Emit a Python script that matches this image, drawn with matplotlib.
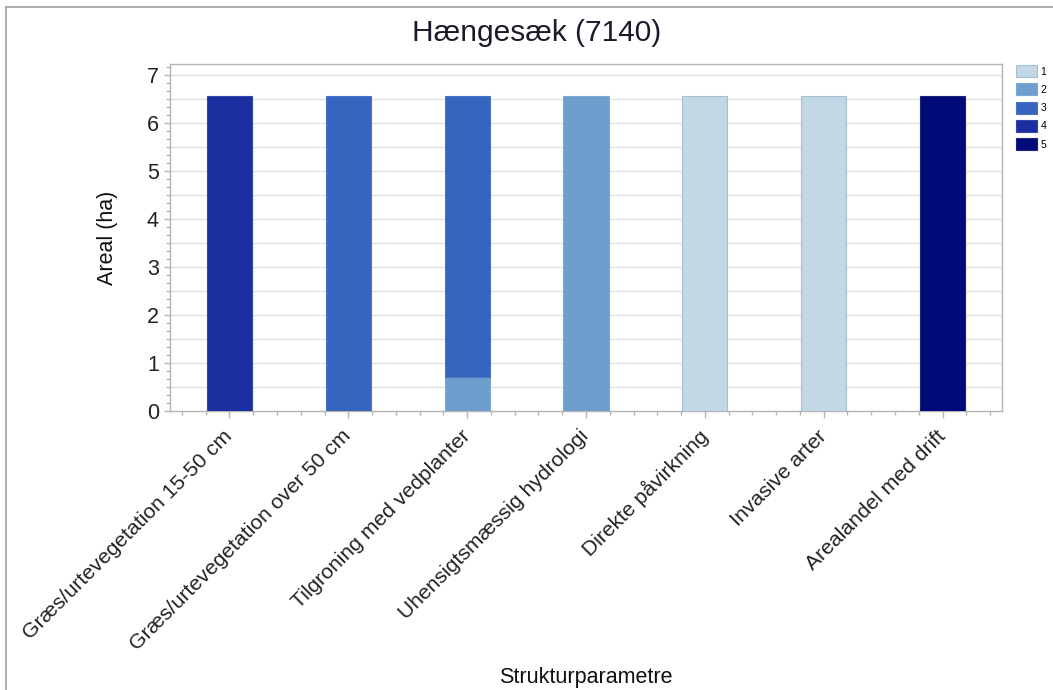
import matplotlib
matplotlib.use("Agg")
import matplotlib.pyplot as plt
from matplotlib.ticker import MultipleLocator
from matplotlib.lines import Line2D
import numpy as np

plt.rcParams['font.family'] = ['Liberation Sans', 'DejaVu Sans']

title = "Hængesæk (7140)"
categories = [
    "Græs/urtevegetation 15-50 cm",
    "Græs/urtevegetation over 50 cm",
    "Tilgroning med vedplanter",
    "Uhensigtsmæssig hydrologi",
    "Direkte påvirkning",
    "Invasive arter",
    "Arealandel med drift",
]
series_names = ["1", "2", "3", "4", "5"]
s1 = [0, 0, 0, 0, 6.57, 6.57, 0]
s2 = [0, 0, 0.71, 6.57, 0, 0, 0]
s3 = [0, 6.57, 5.86, 0, 0, 0, 0]
s4 = [6.57, 0, 0, 0, 0, 0, 0]
s5 = [0, 0, 0, 0, 0, 0, 6.57]
series = [s1, s2, s3, s4, s5]
colors = ["#c3d8e5", "#6e9ecd", "#3565bf", "#1b2fa0", "#000a78"]
edges = ["#a4c0d3", "#7ea9d2", "#4a74c6", "#3346a8", "#1a237e"]

fig = plt.figure(figsize=(10.53, 6.9), dpi=100)
ax = fig.add_axes([170/1053, 1-411/690, (1002-170)/1053, (411-64)/690])

x = np.arange(len(categories))
bottom = np.zeros(len(categories))
handles = []
for name, vals, c, ec in zip(series_names, series, colors, edges):
    vals = np.array(vals, dtype=float)
    nz = vals > 0
    ax.bar(x[nz], vals[nz], width=0.38, bottom=bottom[nz], color=c, edgecolor=ec,
           linewidth=0.8, zorder=3)
    handles.append(plt.Rectangle((0, 0), 1, 1, facecolor=c, edgecolor=ec, linewidth=0.8))
    bottom += vals

ax.set_xlim(-0.5, 6.5)
ax.set_ylim(0, max(bottom) * 1.1)
ax.yaxis.set_major_locator(MultipleLocator(1))
ax.yaxis.set_minor_locator(MultipleLocator(1/6))
ax.xaxis.set_minor_locator(MultipleLocator(0.2))
ax.set_xticks(x)
ax.set_xticklabels(categories, rotation=45, ha='right', va='center',
                   rotation_mode='anchor', fontsize=15.2, color='#222222')
for lab in ax.get_yticklabels():
    lab.set_fontsize(15.5)
    lab.set_color('#222222')

for g in np.arange(0.5, 7.3, 0.5):
    ax.axhline(g, color='#e2e2e2', linewidth=1.0, zorder=1)

for sp in ax.spines.values():
    sp.set_color('#b4b4b4')
    sp.set_linewidth(1.0)
ax.tick_params(axis='y', which='major', length=4, color='#b4b4b4', width=1.0, pad=4)
ax.tick_params(axis='y', which='minor', length=3, color='#b4b4b4', width=1.0)
ax.tick_params(axis='x', which='major', length=5, color='#b4b4b4', width=1.0, pad=11)
ax.tick_params(axis='x', which='minor', length=3, color='#b4b4b4', width=1.0)

fig.text(537/1053, 1-33/690, title, fontsize=21.5, color='#1a1a2a',
         ha='center', va='center')
ax.set_ylabel("Areal (ha)", fontsize=15.5, color='#111111', labelpad=21)
fig.text(586/1053, 1-677/690, "Strukturparametre", fontsize=15.5, color='#111111',
         ha='center', va='center')

leg = fig.legend(handles=handles, labels=series_names, loc='upper left',
                 bbox_to_anchor=(1013/1053, 1-62/690), fontsize=7.5, frameon=False,
                 handlelength=2.0, handleheight=1.4, labelspacing=0.6,
                 handletextpad=0.35, borderaxespad=0, borderpad=0.3)

fig.add_artist(Line2D([6/1053, 6/1053], [0, 1-7/690], transform=fig.transFigure,
                      color='#a0a0a0', linewidth=1.2))
fig.add_artist(Line2D([6/1053, 1], [1-7/690, 1-7/690], transform=fig.transFigure,
                      color='#a0a0a0', linewidth=1.2))

fig.savefig("out.png", dpi=100)
